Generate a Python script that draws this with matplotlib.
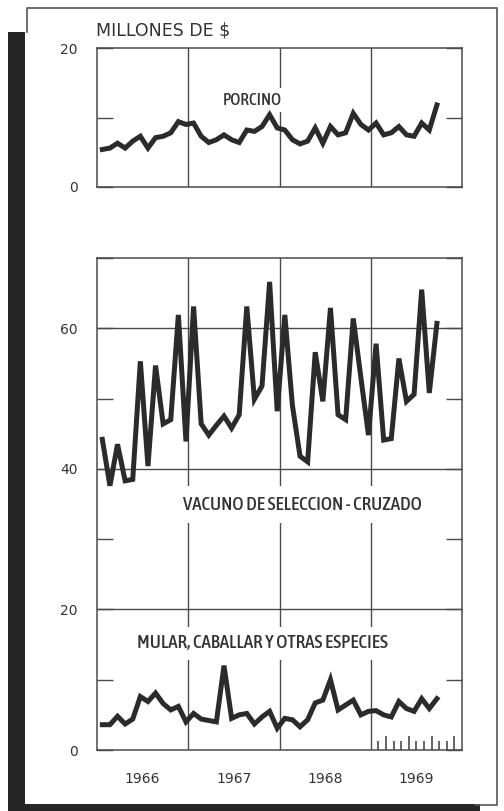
import numpy as np
import matplotlib
matplotlib.use('Agg')
import matplotlib.pyplot as plt
from matplotlib import font_manager
from matplotlib.font_manager import FontProperties
from matplotlib.patches import Rectangle
from matplotlib.lines import Line2D

# monthly values, Jan 1966 - Sep 1969 (millones de $)
porcino = [5.4, 5.6, 6.3, 5.6, 6.6, 7.3, 5.6, 7.1, 7.3, 7.8, 9.4, 9.0,
           9.2, 7.3, 6.4, 6.8, 7.5, 6.8, 6.4, 8.2, 8.0, 8.7, 10.4, 8.5,
           8.2, 6.8, 6.2, 6.6, 8.5, 6.3, 8.7, 7.5, 7.8, 10.6, 9.0, 8.2,
           9.2, 7.5, 7.8, 8.7, 7.5, 7.3, 9.2, 8.2, 11.8]
vacuno = [44.2, 37.6, 43.5, 38.3, 38.5, 55.3, 40.4, 54.7, 46.4, 47.0, 61.9, 43.9,
          63.1, 46.4, 44.8, 46.2, 47.5, 45.8, 47.7, 63.1, 49.9, 51.8, 66.6, 48.2,
          61.9, 49.0, 41.8, 41.0, 56.6, 49.6, 62.9, 47.7, 47.0, 61.4, 53.0, 44.8,
          57.8, 44.1, 44.3, 55.7, 49.6, 50.6, 65.5, 50.8, 60.7]
mular = [3.6, 3.6, 4.8, 3.7, 4.4, 7.6, 6.9, 8.1, 6.6, 5.7, 6.2, 4.0,
         5.2, 4.4, 4.2, 4.0, 12.0, 4.5, 5.0, 5.2, 3.7, 4.7, 5.5, 3.1,
         4.5, 4.3, 3.3, 4.3, 6.7, 7.1, 10.0, 5.7, 6.4, 7.1, 5.0, 5.5,
         5.6, 5.0, 4.7, 6.9, 5.9, 5.5, 7.3, 5.9, 7.3]
years = [1966, 1967, 1968, 1969]
label_porcino = 'PORCINO'
label_vacuno = 'VACUNO DE SELECCION - CRUZADO'
label_mular = 'MULAR, CABALLAR Y OTRAS ESPECIES'

t = 1966 + (np.arange(len(porcino)) + 0.7) / 12

# look for a narrow face for the series labels, else DejaVu Sans
narrow_fp = None
cands = []
for f in font_manager.fontManager.ttflist:
    st = str(f.stretch).lower()
    if ('condensed' in st or 'narrow' in f.name.lower() or 'condensed' in f.name.lower()) \
            and f.style == 'normal':
        w = f.weight if isinstance(f.weight, int) else 400
        cands.append((abs(w - 500), 'extra' in st or 'ultra' in st, f.fname))
if cands:
    cands.sort()
    narrow_fp = FontProperties(fname=cands[0][2])
else:
    narrow_fp = FontProperties(family='DejaVu Sans')

W, H = 504, 811
ink = '#2b2b2b'
txt = '#333333'
grid = '#4a4a4a'

fig = plt.figure(figsize=(W / 100, H / 100), dpi=100)
fig.patch.set_facecolor('white')


def box(l, t_, r, b):
    return [l / W, 1 - b / H, (r - l) / W, (b - t_) / H]


ax1 = fig.add_axes(box(97, 48, 462, 187))
ax2 = fig.add_axes(box(97, 258, 462, 750))

for ax in (ax1, ax2):
    ax.set_xlim(1966, 1970)
    for s in ax.spines.values():
        s.set_color(grid)
        s.set_linewidth(1.1)
    for yr in years[1:]:
        ax.axvline(yr, color=grid, lw=1.0, zorder=1)
    ax.set_xticks([])
    ax.tick_params(axis='y', direction='in', length=11.5, width=1.0, color=grid,
                   left=True, right=True, labelsize=10, labelcolor=txt, pad=14)

# top panel
ax1.set_ylim(0, 20)
ax1.set_yticks([0, 10, 20])
ax1.set_yticklabels(['0', '', '20'])
ax1.plot(t, porcino, color=ink, lw=3.6, solid_joinstyle='miter', zorder=3)
t1 = ax1.text(1967.70, 12.5, label_porcino, fontproperties=narrow_fp, color=txt,
              ha='center', va='center', zorder=2,
              bbox=dict(facecolor='white', edgecolor='none', pad=2))

# bottom panel
ax2.set_ylim(0, 70)
ax2.set_yticks(range(0, 80, 10))
ax2.set_yticklabels(['0', '', '20', '', '40', '', '60', ''])
for v in (20, 40, 60):
    ax2.axhline(v, color=grid, lw=1.0, zorder=1)
ax2.plot(t, vacuno, color=ink, lw=3.6, solid_joinstyle='miter', zorder=3)
ax2.plot(t, mular, color=ink, lw=3.6, solid_joinstyle='miter', zorder=3)
t2 = ax2.text(1968.25, 34.9, label_vacuno, fontproperties=narrow_fp, color=txt,
              ha='center', va='center', zorder=2,
              bbox=dict(facecolor='white', edgecolor='none', pad=5))
t3 = ax2.text(1967.81, 15.2, label_mular, fontproperties=narrow_fp, color=txt,
              ha='center', va='center', zorder=2,
              bbox=dict(facecolor='white', edgecolor='none', pad=4))

# size the labels to the widths they have on the page
renderer = fig.canvas.get_renderer()
for tx, target in ((t1, 59), (t2, 237), (t3, 250)):
    tx.set_fontsize(10)
    wpx = tx.get_window_extent(renderer).width
    tx.set_fontsize(min(10 * target / wpx, 14))

# year labels centred on each year
ax2.set_xticks([y + 0.5 for y in years])
ax2.set_xticklabels([str(y) for y in years])
ax2.tick_params(axis='x', length=0, labelsize=10, labelcolor=txt, pad=16)

# monthly ticks in 1969
mt = 1969 + np.arange(1, 12) / 12
tall = np.arange(1, 12) % 3 == 2
ax2.vlines(mt, 0, np.where(tall, 0.028, 0.018), transform=ax2.get_xaxis_transform(),
           color=grid, lw=1.2)

fig.text(96 / W, 1 - 30 / H, 'MILLONES DE $', fontsize=12.5, color=txt,
         ha='left', va='center')

# scanned page frame
fig.add_artist(Rectangle((8 / W, 0), 17 / W, 1 - 32 / H, transform=fig.transFigure,
                         facecolor='#262626', edgecolor='none'))
fig.add_artist(Rectangle((8 / W, 0), 472 / W, 7 / H, transform=fig.transFigure,
                         facecolor='#262626', edgecolor='none'))
fig.add_artist(Line2D([27 / W, 27 / W, 497 / W, 497 / W, 475 / W],
                      [1 - 32 / H, 1 - 8 / H, 1 - 8 / H, 1 - 805 / H, 1 - 805 / H],
                      transform=fig.transFigure, color='#555555', lw=1.2))

fig.savefig('out.png', dpi=100, facecolor='white')
